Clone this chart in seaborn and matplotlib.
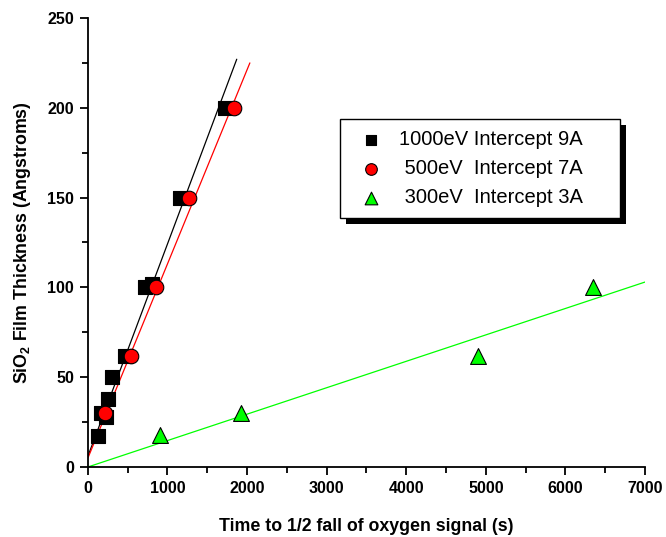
import numpy as np
import pandas as pd
import matplotlib
matplotlib.use("Agg")
import matplotlib.pyplot as plt
import matplotlib.patches as mpatches
from matplotlib.transforms import IdentityTransform
from matplotlib.ticker import MultipleLocator
import seaborn as sns

# measured points (time in s, thickness in Angstroms)
t_1000 = [130, 170, 230, 250, 300, 460, 720, 800, 1160, 1720]
d_1000 = [17, 30, 28, 38, 50, 62, 100, 102, 150, 200]
t_500 = [210, 540, 860, 1270, 1840]
d_500 = [30, 62, 100, 150, 200]
t_300 = [900, 1920, 4900, 6350]
d_300 = [18, 30, 62, 100]

# linear fits: intercept, slope, end of drawn range
fit_intercept = [6, 5, 0]
fit_slope = [0.1182, 0.1081, 0.01471]
fit_xmax = [1870, 2035, 7000]

labels = ["1000eV Intercept 9A", " 500eV  Intercept 7A", " 300eV  Intercept 3A"]
colors = ["black", "red", "#00ff00"]
markers = ["s", "o", "^"]
sizes = [90, 110, 130]

sns.set_style("ticks")
plt.rcParams["font.family"] = ["Liberation Sans", "DejaVu Sans"]
plt.rcParams["mathtext.fontset"] = "custom"
plt.rcParams["mathtext.bf"] = "Liberation Sans:bold"
plt.rcParams["mathtext.rm"] = "Liberation Sans:bold"
plt.rcParams["text.color"] = "black"
plt.rcParams["axes.labelcolor"] = "black"

fig = plt.figure(figsize=(6.66, 5.37), dpi=100)
ax = fig.add_axes([0.132, 0.1304, 0.8365, 0.8361])

series = [(t_1000, d_1000), (t_500, d_500), (t_300, d_300)]

for i in range(3):
    xs = np.array([0, fit_xmax[i]])
    ys = fit_intercept[i] + fit_slope[i] * xs
    sns.lineplot(x=xs, y=ys, color=colors[i], linewidth=0.9, ax=ax, zorder=2)

handles = []
for i, (t, d) in enumerate(series):
    df = pd.DataFrame({"t": t, "d": d})
    sns.scatterplot(data=df, x="t", y="d", marker=markers[i], s=sizes[i],
                    color=colors[i], edgecolor="black", linewidth=0.8,
                    ax=ax, zorder=3)
    handles.append(ax.collections[-1])

ax.set_xlim(0, 7000)
ax.set_ylim(0, 250)
ax.xaxis.set_major_locator(MultipleLocator(1000))
ax.xaxis.set_minor_locator(MultipleLocator(500))
ax.yaxis.set_major_locator(MultipleLocator(50))
ax.yaxis.set_minor_locator(MultipleLocator(25))
ax.tick_params(which="major", direction="out", length=6, width=1.3, labelsize=11.5,
               colors="black", pad=4)
ax.tick_params(which="minor", direction="out", length=4, width=1.3, colors="black")
for lab in ax.get_xticklabels() + ax.get_yticklabels():
    lab.set_fontweight("bold")

for s in ["top", "right"]:
    ax.spines[s].set_visible(False)
for s in ["left", "bottom"]:
    ax.spines[s].set_linewidth(1.3)
    ax.spines[s].set_color("black")

ax.set_xlabel("Time to 1/2 fall of oxygen signal (s)", fontsize=12.8, fontweight="bold", labelpad=16)
ax.set_ylabel(r"SiO$_\mathbf{2}$ Film Thickness (Angstroms)", fontsize=12.8, fontweight="bold", labelpad=10)

leg = ax.legend(handles, labels, loc="upper left", mode="expand",
                bbox_to_anchor=(0.4524, 0.5657, 0.5026, 0.2094), borderaxespad=0,
                fontsize=14.5, fancybox=False, framealpha=1, edgecolor="black",
                borderpad=0.55, labelspacing=0.5, handletextpad=0.4, markerscale=0.8)
leg.get_frame().set_linewidth(1.0)
leg.set_zorder(6)

fig.canvas.draw()
bb = leg.get_window_extent()
shadow = mpatches.Rectangle((bb.x0 + 6, bb.y0 - 6), bb.width, bb.height,
                            transform=IdentityTransform(), facecolor="black",
                            edgecolor="none", zorder=5.5, clip_on=False)
ax.add_artist(shadow)

fig.savefig("out.png", dpi=100)
